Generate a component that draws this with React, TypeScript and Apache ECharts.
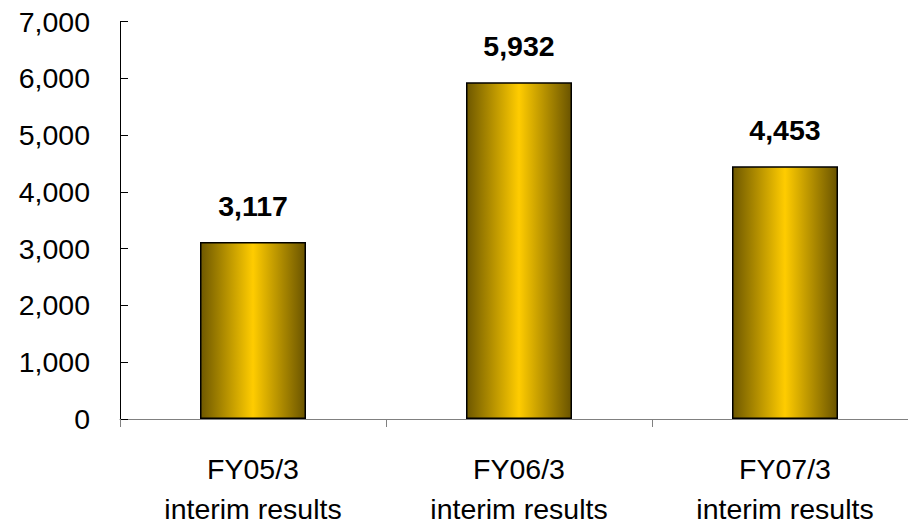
import React, { useEffect, useRef } from "react";
import * as echarts from "echarts";

const categories = ["FY05/3\ninterim results", "FY06/3\ninterim results", "FY07/3\ninterim results"];
const values = [3117, 5932, 4453];
const yTicks = [0, 1000, 2000, 3000, 4000, 5000, 6000, 7000];

const FONT = "'Liberation Sans', Arial, sans-serif";

export default function App() {
  const ref = useRef<HTMLDivElement>(null);
  useEffect(() => {
    if (!ref.current) return;
    const chart = echarts.init(ref.current, null, { renderer: "svg" });
    chart.setOption({
      animation: false,
      backgroundColor: "#ffffff",
      grid: { left: 120, right: 22, top: 21.7, bottom: 104, containLabel: false },
      xAxis: {
        type: "category",
        data: categories,
        axisLine: { show: true, lineStyle: { color: "#808080", width: 1 } },
        axisTick: { show: true, inside: false, length: 8, lineStyle: { color: "#808080" } },
        axisLabel: {
          interval: 0,
          color: "#000",
          fontFamily: FONT,
          fontSize: 28.5,
          lineHeight: 40,
          margin: 30,
        },
      },
      yAxis: {
        type: "value",
        min: yTicks[0],
        max: yTicks[yTicks.length - 1],
        interval: 1000,
        splitLine: { show: false },
        axisLine: { show: true, lineStyle: { color: "#000", width: 1 } },
        axisTick: { show: true, inside: true, length: 8, lineStyle: { color: "#000" } },
        axisLabel: {
          color: "#000",
          fontFamily: FONT,
          fontSize: 28.5,
          margin: 30,
          formatter: (v: number) => v.toLocaleString("en-US"),
        },
      },
      series: [
        {
          type: "bar",
          data: values,
          barWidth: 106,
          itemStyle: {
            borderColor: "#000",
            borderWidth: 1.5,
            color: new echarts.graphic.LinearGradient(0, 0, 1, 0, [
              { offset: 0, color: "#6e5800" },
              { offset: 0.5, color: "#ffcc00" },
              { offset: 1, color: "#6a5400" },
            ]),
          },
          label: {
            show: true,
            position: "top",
            distance: 22,
            color: "#000",
            fontFamily: FONT,
            fontWeight: "bold",
            fontSize: 28.5,
            formatter: (p: any) => Number(p.value).toLocaleString("en-US"),
          },
        },
      ],
    });
    return () => chart.dispose();
  }, []);
  return (
    <div
      ref={ref}
      style={{ position: "fixed", left: 0, top: 0, width: 940, height: 529, background: "#fff" }}
    />
  );
}
